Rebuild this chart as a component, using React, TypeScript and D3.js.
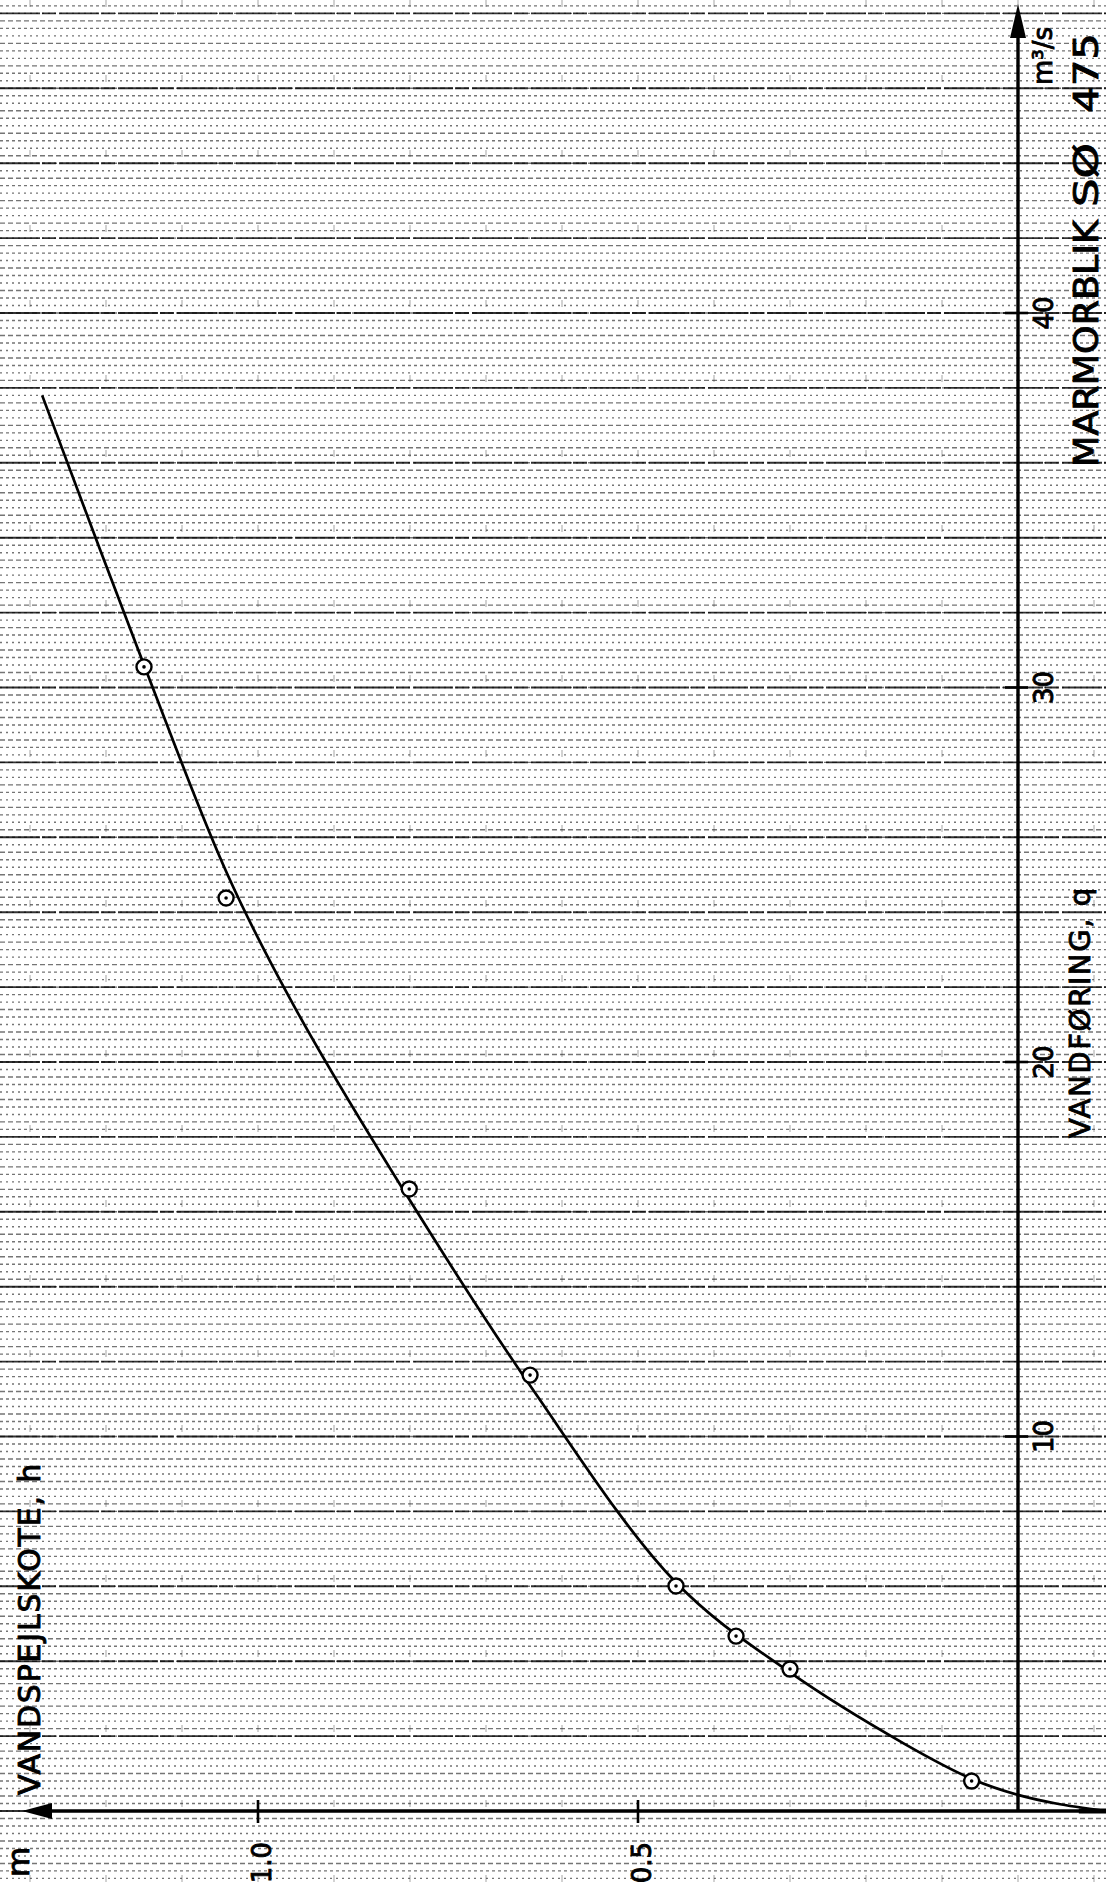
import React from "react";
import * as d3 from "d3";

// rating curve, sheet is turned: q runs up the right side, h runs left along the bottom
const stationName = "MARMORBLIK";
const stationLake = "SØ";
const stationNo = "475";
const qAxisTitle = "VANDFØRING, q";
const qUnit = "m³/s";
const hAxisTitle = "VANDSPEJLSKOTE, h";
const hUnit = "m";

const qTicks = [10, 20, 30, 40];
const hTicks = [0.5, 1.0];
const hTickLabels = ["0.5", "1.0"];

// measurements (h in m, q in m3/s)
const measuredH = [1.15, 1.042, 0.801, 0.642, 0.45, 0.371, 0.3, 0.061];
const measuredQ = [30.55, 24.38, 16.61, 11.64, 6.01, 4.67, 3.79, 0.8];

// drawn rating curve
const curveH = [-0.115, -0.05, 0, 0.06, 0.15, 0.3, 0.45, 0.64, 0.8, 0.95, 1.04, 1.15, 1.284];
const curveQ = [0, 0.2, 0.43, 0.85, 1.8, 3.7, 6.1, 11.3, 16.3, 21.4, 25.0, 30.6, 37.8];

const W = 1106;
const H = 1885;
const font = "'DejaVu Sans', 'Liberation Sans', sans-serif";

export default function App() {
  const originX = 1018;
  const originY = 1811;

  const hScale = d3.scaleLinear().domain([0, 1]).range([originX, 258]);
  const qScale = d3.scaleLinear().domain([0, 40]).range([originY, 313]);

  // graph paper
  const minorLines = d3.range(-2, 50.01, 0.2);
  const majorLines = d3.range(-2, 50.01, 2);
  const vLines = d3.range(-0.1, 1.35, 0.1);

  const curvePts = curveH.map((h, i) => [h, curveQ[i]] as [number, number]);
  const line = d3
    .line<[number, number]>()
    .x((d) => hScale(d[0]))
    .y((d) => qScale(d[1]))
    .curve(d3.curveCatmullRom.alpha(0.5));
  const path = line(curvePts) || "";

  // lettering: a thin outline makes the glyphs look pen drawn
  const ink = { fill: "#000", stroke: "#000", strokeWidth: 0.9 };

  return (
    <svg
      width={W}
      height={H}
      style={{ position: "absolute", left: 0, top: 0, background: "#fff" }}
      fontFamily={font}
    >
      <defs>
        <clipPath id="sheet">
          <rect x={0} y={0} width={W} height={originY + 2} />
        </clipPath>
      </defs>

      {/* paper grid */}
      <g>
        {minorLines.map((q, i) => (
          <line
            key={"mi" + i}
            x1={0}
            x2={W}
            y1={qScale(q)}
            y2={qScale(q)}
            stroke="#1a1a1a"
            strokeWidth={1.4}
            strokeDasharray={i % 3 === 0 ? "5,3" : i % 3 === 1 ? "2,4" : "3,3"}
            opacity={0.6}
          />
        ))}
        {majorLines.map((q, i) => (
          <line
            key={"ma" + i}
            x1={0}
            x2={W}
            y1={qScale(q)}
            y2={qScale(q)}
            stroke="#000"
            strokeWidth={1.9}
            strokeDasharray="40,2,14,3"
            opacity={0.8}
          />
        ))}
        {vLines.map((h, i) => (
          <line
            key={"v" + i}
            x1={hScale(h)}
            x2={hScale(h)}
            y1={0}
            y2={H}
            stroke="#222"
            strokeWidth={1}
            strokeDasharray="7,68"
            opacity={0.4}
          />
        ))}
      </g>

      {/* rating curve */}
      <path d={path} fill="none" stroke="#000" strokeWidth={2.7} clipPath="url(#sheet)" />
      <line x1={hScale(-0.08)} x2={W} y1={originY} y2={originY} stroke="#000" strokeWidth={5} />

      {/* measured points */}
      {measuredH.map((h, i) => (
        <g key={"p" + i}>
          <circle cx={hScale(h)} cy={qScale(measuredQ[i])} r={7.5} fill="#fff" stroke="#000" strokeWidth={2.4} />
          <circle cx={hScale(h)} cy={qScale(measuredQ[i])} r={1.8} fill="#000" />
        </g>
      ))}

      {/* axes */}
      <line x1={originX} x2={originX} y1={originY} y2={20} stroke="#000" strokeWidth={3.4} />
      <polygon points={`${originX},4 ${originX - 8},38 ${originX + 8},38`} fill="#000" />
      <line x1={40} x2={W} y1={originY} y2={originY} stroke="#000" strokeWidth={3.4} />
      <polygon points={`22,${originY} 52,${originY - 8} 52,${originY + 8}`} fill="#000" />

      {qTicks.map((q) => (
        <g key={"qt" + q}>
          <line x1={originX - 13} x2={originX + 10} y1={qScale(q)} y2={qScale(q)} stroke="#000" strokeWidth={2.6} />
          <text
            transform={`translate(${originX + 35},${qScale(q)}) rotate(-90)`}
            textAnchor="middle"
            fontSize={26}
            {...ink}
          >
            {q}
          </text>
        </g>
      ))}

      {hTicks.map((h, i) => (
        <g key={"ht" + i}>
          <line x1={hScale(h)} x2={hScale(h)} y1={originY - 11} y2={originY + 12} stroke="#000" strokeWidth={2.6} />
          <text
            transform={`translate(${hScale(h) + 13},${originY + 31}) rotate(-90)`}
            textAnchor="end"
            fontSize={26}
            {...ink}
          >
            {hTickLabels[i]}
          </text>
        </g>
      ))}

      {/* axis titles */}
      <text transform={`translate(1052,56) rotate(-90)`} textAnchor="middle" fontSize={26} {...ink}>
        {qUnit}
      </text>
      <text
        transform={`translate(1090,1138) rotate(-90)`}
        textAnchor="start"
        fontSize={29}
        letterSpacing={1.6}
        {...ink}
      >
        {qAxisTitle}
      </text>
      <text
        transform={`translate(40,1795) rotate(-90)`}
        textAnchor="start"
        fontSize={30}
        letterSpacing={1.8}
        {...ink}
      >
        {hAxisTitle}
      </text>
      <text transform={`translate(29,1862) rotate(-90)`} textAnchor="middle" fontSize={31} {...ink}>
        {hUnit}
      </text>

      {/* sheet title along the right edge */}
      <text
        transform={`translate(1098,467) rotate(-90)`}
        textAnchor="start"
        fontSize={34}
        textLength={247}
        lengthAdjust="spacingAndGlyphs"
        {...ink}
      >
        {stationName}
      </text>
      <text
        transform={`translate(1098,207) rotate(-90)`}
        textAnchor="start"
        fontSize={34}
        textLength={64}
        lengthAdjust="spacingAndGlyphs"
        {...ink}
      >
        {stationLake}
      </text>
      <text
        transform={`translate(1098,113) rotate(-90)`}
        textAnchor="start"
        fontSize={34}
        textLength={80}
        lengthAdjust="spacingAndGlyphs"
        {...ink}
      >
        {stationNo}
      </text>
    </svg>
  );
}
